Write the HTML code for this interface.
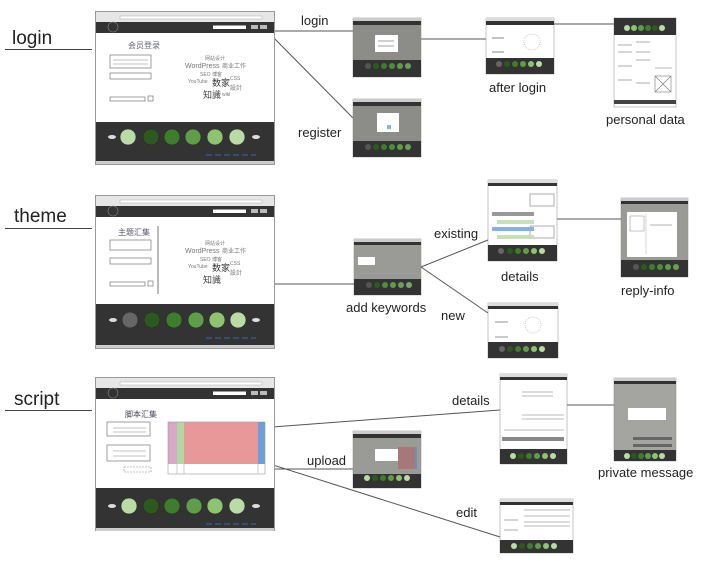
<!DOCTYPE html>
<html><head><meta charset="utf-8"><style>
html,body{margin:0;padding:0;background:#fff;}
svg{display:block;}
text{font-family:"Liberation Sans","Noto Sans CJK SC",sans-serif;}
</style></head><body>
<svg width="720" height="568" viewBox="0 0 720 568" xmlns="http://www.w3.org/2000/svg">
<defs>
<symbol id="foot" viewBox="0 0 178 40">
  <rect width="178" height="40" fill="#333"/>
</symbol>
</defs>

<!-- section labels -->
<g fill="#222" font-size="19">
<text x="12" y="44">login</text>
<text x="14" y="222">theme</text>
<text x="14" y="405">script</text>
</g>
<g stroke="#444" stroke-width="1">
<line x1="5" y1="49.5" x2="92" y2="49.5"/>
<line x1="5" y1="228.5" x2="92" y2="228.5"/>
<line x1="5" y1="410.5" x2="92" y2="410.5"/>
</g>

<!-- connectors -->
<g stroke="#555" stroke-width="1" fill="none">
<line x1="268" y1="31" x2="353" y2="31"/>
<line x1="268" y1="32" x2="353" y2="118"/>
<line x1="421" y1="39" x2="486" y2="39"/>
<line x1="548" y1="24" x2="614" y2="24"/>
<line x1="152" y1="284" x2="354" y2="284"/>
<line x1="421" y1="267" x2="488" y2="240"/>
<line x1="421" y1="267" x2="488" y2="313"/>
<line x1="552" y1="219" x2="621" y2="219"/>
<line x1="232" y1="430" x2="500" y2="410"/>
<line x1="232" y1="452" x2="500" y2="537"/>
<line x1="150" y1="469" x2="353" y2="469"/>
<line x1="510" y1="405" x2="614" y2="405"/>
</g>

<!-- connector labels -->
<g fill="#222" font-size="13">
<text x="301" y="25">login</text>
<text x="298" y="137">register</text>
<text x="489" y="92">after login</text>
<text x="606" y="124">personal data</text>
<text x="434" y="238">existing</text>
<text x="501" y="281">details</text>
<text x="621" y="295">reply-info</text>
<text x="346" y="312">add keywords</text>
<text x="441" y="320">new</text>
<text x="452" y="405">details</text>
<text x="307" y="465">upload</text>
<text x="598" y="477">private message</text>
<text x="456" y="517">edit</text>
</g>

<!-- ========== MAIN MOCKUPS ========== -->
<!-- login -->
<g>
<rect x="95.5" y="11.5" width="179" height="153" fill="#fff" stroke="#999"/>
<rect x="96" y="12" width="178" height="10" fill="#e6e6e6"/>
<rect x="120" y="16" width="142" height="3" fill="#fff" stroke="#aaa" stroke-width="0.5"/>
<rect x="96" y="22" width="178" height="11" fill="#333"/>
<rect x="213" y="25.5" width="33" height="3.5" fill="#fff"/>
<rect x="251" y="25" width="7" height="4" fill="#bbb"/>
<rect x="260" y="25" width="7" height="4" fill="#bbb"/>
<circle cx="113" cy="27" r="5" fill="none" stroke="#888" stroke-width="0.6"/>
<text x="128" y="48" font-size="8" fill="#667">会员登录</text>
<rect x="110" y="55" width="41" height="13" fill="none" stroke="#777" stroke-width="0.7"/>
<line x1="113" y1="60" x2="148" y2="60" stroke="#888" stroke-width="0.6"/>
<line x1="113" y1="64" x2="148" y2="64" stroke="#888" stroke-width="0.6"/>
<rect x="110" y="73" width="41" height="6" fill="none" stroke="#777" stroke-width="0.7"/>
<rect x="110" y="97" width="35" height="4" fill="none" stroke="#777" stroke-width="0.7"/>
<rect x="148" y="96" width="5" height="5" fill="none" stroke="#777" stroke-width="0.7"/>
<g fill="#777" font-size="5">
<text x="205" y="60">网站设计</text><text x="185" y="68" font-size="7">WordPress</text><text x="222" y="68" font-size="6">商业工作</text>
<text x="200" y="76">SEO 博客</text><text x="230" y="80">CSS</text><text x="188" y="83">YouTube</text>
<text x="212" y="86" font-size="9" fill="#333">数家</text><text x="230" y="90" font-size="6">設計</text>
<text x="203" y="98" font-size="9" fill="#444">知識</text><text x="222" y="96">wiki</text>
</g>
<rect x="96" y="122" width="178" height="39" fill="#333"/>
<g stroke="#222" stroke-width="0.5">
<circle cx="128" cy="137" r="8" fill="#b9dca6"/>
<circle cx="151" cy="137" r="8" fill="#2c5a1e"/>
<circle cx="172" cy="137" r="8" fill="#3d7d2c"/>
<circle cx="193" cy="137" r="8" fill="#5e9e48"/>
<circle cx="215" cy="137" r="8" fill="#8cc470"/>
<circle cx="237" cy="137" r="8" fill="#b9dca6"/>
</g>
<ellipse cx="112" cy="137" rx="4" ry="2" fill="#ddd"/>
<ellipse cx="256" cy="137" rx="4" ry="2" fill="#ddd"/>
<line x1="206" y1="155" x2="256" y2="155" stroke="#3a6aa8" stroke-width="1" stroke-dasharray="6,3"/>
<rect x="96" y="161" width="178" height="3" fill="#ccc"/>
</g>

<!-- theme -->
<g>
<rect x="95.5" y="195.5" width="179" height="153" fill="#fff" stroke="#999"/>
<rect x="96" y="196" width="178" height="10" fill="#e6e6e6"/>
<rect x="120" y="200" width="142" height="3" fill="#fff" stroke="#aaa" stroke-width="0.5"/>
<rect x="96" y="206" width="178" height="11" fill="#333"/>
<rect x="213" y="209.5" width="33" height="3.5" fill="#fff"/>
<rect x="251" y="209" width="7" height="4" fill="#bbb"/>
<rect x="260" y="209" width="7" height="4" fill="#bbb"/>
<circle cx="113" cy="211" r="5" fill="none" stroke="#888" stroke-width="0.6"/>
<text x="118" y="235" font-size="8" fill="#556">主题汇集</text>
<line x1="158" y1="226" x2="158" y2="294" stroke="#555" stroke-width="0.8"/>
<rect x="110" y="240" width="41" height="10" fill="none" stroke="#777" stroke-width="0.7"/>
<rect x="110" y="258" width="41" height="6" fill="none" stroke="#777" stroke-width="0.7"/>
<rect x="110" y="282" width="35" height="4" fill="none" stroke="#777" stroke-width="0.7"/>
<rect x="148" y="281" width="5" height="5" fill="none" stroke="#777" stroke-width="0.7"/>
<g fill="#777" font-size="5">
<text x="205" y="245">网站设计</text><text x="185" y="253" font-size="7">WordPress</text><text x="222" y="253" font-size="6">商业工作</text>
<text x="200" y="261">SEO 博客</text><text x="230" y="265">CSS</text><text x="188" y="268">YouTube</text>
<text x="212" y="271" font-size="9" fill="#333">数家</text><text x="230" y="275" font-size="6">設計</text>
<text x="203" y="283" font-size="9" fill="#444">知識</text>
</g>
<rect x="96" y="304" width="178" height="41" fill="#333"/>
<g stroke="#222" stroke-width="0.5">
<circle cx="130" cy="320" r="8" fill="#666"/>
<circle cx="152" cy="320" r="8" fill="#2c5a1e"/>
<circle cx="174" cy="320" r="8" fill="#3d7d2c"/>
<circle cx="196" cy="320" r="8" fill="#5e9e48"/>
<circle cx="217" cy="320" r="8" fill="#8cc470"/>
<circle cx="238" cy="320" r="8" fill="#b9dca6"/>
</g>
<ellipse cx="113" cy="320" rx="4" ry="2" fill="#ddd"/>
<ellipse cx="256" cy="320" rx="4" ry="2" fill="#ddd"/>
<line x1="206" y1="338" x2="256" y2="338" stroke="#3a6aa8" stroke-width="1" stroke-dasharray="6,3"/>
<rect x="96" y="345" width="178" height="3" fill="#ccc"/>
</g>

<!-- script -->
<g>
<rect x="95.5" y="377.5" width="179" height="153" fill="#fff" stroke="#999"/>
<rect x="96" y="378" width="178" height="10" fill="#e6e6e6"/>
<rect x="120" y="382" width="142" height="3" fill="#fff" stroke="#aaa" stroke-width="0.5"/>
<rect x="96" y="388" width="178" height="11" fill="#333"/>
<rect x="213" y="391.5" width="33" height="3.5" fill="#fff"/>
<rect x="251" y="391" width="7" height="4" fill="#bbb"/>
<rect x="260" y="391" width="7" height="4" fill="#bbb"/>
<circle cx="113" cy="393" r="5" fill="none" stroke="#888" stroke-width="0.6"/>
<text x="125" y="417" font-size="8" fill="#445">脚本汇集</text>
<rect x="107" y="422" width="43" height="14" fill="none" stroke="#777" stroke-width="0.7"/>
<line x1="113" y1="428" x2="146" y2="428" stroke="#888" stroke-width="0.6"/>
<line x1="113" y1="432" x2="146" y2="432" stroke="#888" stroke-width="0.6"/>
<rect x="107" y="445" width="43" height="16" fill="none" stroke="#777" stroke-width="0.7"/>
<line x1="113" y1="451" x2="146" y2="451" stroke="#888" stroke-width="0.6"/>
<line x1="113" y1="456" x2="146" y2="456" stroke="#888" stroke-width="0.6"/>
<rect x="124" y="467" width="27" height="5" fill="none" stroke="#888" stroke-width="0.6" stroke-dasharray="2,1"/>
<rect x="168" y="422" width="9" height="42" fill="#d8a8c6"/>
<rect x="177" y="422" width="7" height="42" fill="#b4d8a4"/>
<rect x="184" y="422" width="74" height="42" fill="#e89898"/>
<rect x="258" y="422" width="7" height="42" fill="#6a9fd8"/>
<rect x="168" y="422" width="97" height="52" fill="none" stroke="#999" stroke-width="0.6"/>
<line x1="177" y1="464" x2="177" y2="474" stroke="#999" stroke-width="0.5"/>
<line x1="184" y1="464" x2="184" y2="474" stroke="#999" stroke-width="0.5"/>
<line x1="258" y1="464" x2="258" y2="474" stroke="#999" stroke-width="0.5"/>
<rect x="96" y="488" width="178" height="40" fill="#333"/>
<g stroke="#222" stroke-width="0.5">
<circle cx="129" cy="506" r="8" fill="#b9dca6"/>
<circle cx="151" cy="506" r="8" fill="#2c5a1e"/>
<circle cx="172" cy="506" r="8" fill="#3d7d2c"/>
<circle cx="194" cy="506" r="8" fill="#5e9e48"/>
<circle cx="215" cy="506" r="8" fill="#8cc470"/>
<circle cx="237" cy="506" r="8" fill="#b9dca6"/>
</g>
<ellipse cx="112" cy="506" rx="4" ry="2" fill="#ddd"/>
<ellipse cx="256" cy="506" rx="4" ry="2" fill="#ddd"/>
<line x1="206" y1="524" x2="256" y2="524" stroke="#3a6aa8" stroke-width="1" stroke-dasharray="6,3"/>
<rect x="96" y="528" width="178" height="3" fill="#ccc"/>
</g>

<!-- ========== THUMBNAILS ========== -->
<!-- login modal -->
<g>
<rect x="353" y="18" width="68" height="59" fill="#8c8c88" stroke="#888" stroke-width="0.5"/>
<rect x="353" y="18" width="68" height="3" fill="#ccc"/>
<rect x="353" y="21" width="68" height="4" fill="#333"/>
<rect x="375" y="35" width="23" height="17" fill="#fff"/>
<line x1="378" y1="41" x2="394" y2="41" stroke="#666" stroke-width="0.6"/>
<line x1="378" y1="46" x2="394" y2="46" stroke="#666" stroke-width="0.6"/>
<rect x="353" y="60" width="68" height="17" fill="#333"/>
<g><circle cx="368" cy="66" r="3" fill="#555"/><circle cx="376" cy="66" r="3" fill="#2c5a1e"/><circle cx="384" cy="66" r="3" fill="#3d7d2c"/><circle cx="392" cy="66" r="3" fill="#4d8d3c"/><circle cx="400" cy="66" r="3" fill="#5e9e48"/><circle cx="408" cy="66" r="3" fill="#6aa056"/></g>
</g>
<!-- register -->
<g>
<rect x="353" y="99" width="68" height="58" fill="#8c8c88" stroke="#888" stroke-width="0.5"/>
<rect x="353" y="99" width="68" height="3" fill="#ccc"/>
<rect x="353" y="102" width="68" height="4" fill="#333"/>
<rect x="377" y="113" width="22" height="19" fill="#fff"/>
<rect x="387" y="125" width="4" height="4" fill="#88b0e0"/>
<rect x="353" y="141" width="68" height="16" fill="#333"/>
<g><circle cx="368" cy="147" r="3" fill="#555"/><circle cx="376" cy="147" r="3" fill="#2c5a1e"/><circle cx="384" cy="147" r="3" fill="#3d7d2c"/><circle cx="392" cy="147" r="3" fill="#4d8d3c"/><circle cx="400" cy="147" r="3" fill="#5e9e48"/><circle cx="408" cy="147" r="3" fill="#6aa056"/></g>
</g>
<!-- after login -->
<g>
<rect x="486" y="18" width="68" height="56" fill="#fff" stroke="#888" stroke-width="0.5"/>
<rect x="486" y="18" width="68" height="3" fill="#ddd"/>
<rect x="486" y="21" width="68" height="4" fill="#333"/>
<line x1="492" y1="38" x2="504" y2="38" stroke="#666" stroke-width="0.8"/>
<line x1="492" y1="52" x2="504" y2="52" stroke="#666" stroke-width="0.8"/>
<circle cx="532" cy="42" r="8" fill="none" stroke="#aaa" stroke-width="0.6" stroke-dasharray="1,1"/>
<rect x="486" y="58" width="68" height="16" fill="#333"/>
<g><circle cx="499" cy="64" r="3" fill="#666"/><circle cx="507" cy="64" r="3" fill="#2c5a1e"/><circle cx="515" cy="64" r="3" fill="#3d7d2c"/><circle cx="523" cy="64" r="3" fill="#5e9e48"/><circle cx="531" cy="64" r="3" fill="#8cc470"/><circle cx="539" cy="64" r="3" fill="#b9dca6"/></g>
</g>
<!-- personal data -->
<g>
<rect x="614" y="18" width="62" height="89" fill="#fff" stroke="#888" stroke-width="0.5"/>
<rect x="614" y="18" width="62" height="17" fill="#333"/>
<g><circle cx="627" cy="28" r="3" fill="#b9dca6"/><circle cx="634" cy="28" r="3" fill="#8cc470"/><circle cx="641" cy="28" r="3" fill="#5e9e48"/><circle cx="648" cy="28" r="3" fill="#3d7d2c"/><circle cx="655" cy="28" r="3" fill="#2c5a1e"/><circle cx="662" cy="28" r="3" fill="#b9dca6"/></g>
<g stroke="#777" stroke-width="0.6">
<line x1="618" y1="45" x2="632" y2="45"/><line x1="618" y1="52" x2="632" y2="52"/>
<line x1="636" y1="42" x2="650" y2="42"/><line x1="636" y1="52" x2="650" y2="52"/><line x1="636" y1="60" x2="650" y2="60"/>
<line x1="618" y1="66" x2="632" y2="66"/><line x1="618" y1="80" x2="632" y2="80"/>
<line x1="636" y1="83" x2="650" y2="83"/><line x1="655" y1="68" x2="672" y2="68"/>
<rect x="655" y="76" width="16" height="16" fill="none"/><line x1="655" y1="76" x2="671" y2="92"/><line x1="671" y1="76" x2="655" y2="92"/>
</g>
<rect x="614" y="100" width="62" height="4" fill="#444"/>
</g>
<!-- add keywords -->
<g>
<rect x="354" y="239" width="67" height="56" fill="#9a9a96" stroke="#888" stroke-width="0.5"/>
<rect x="354" y="239" width="67" height="3" fill="#ccc"/>
<rect x="354" y="242" width="67" height="3" fill="#333"/>
<rect x="358" y="257" width="17" height="8" fill="#fff"/>
<rect x="354" y="279" width="67" height="16" fill="#333"/>
<g><circle cx="369" cy="285" r="3" fill="#555"/><circle cx="377" cy="285" r="3" fill="#2c5a1e"/><circle cx="385" cy="285" r="3" fill="#4d8d3c"/><circle cx="393" cy="285" r="3" fill="#5e9e48"/><circle cx="401" cy="285" r="3" fill="#6aa056"/><circle cx="409" cy="285" r="3" fill="#7aa866"/></g>
</g>
<!-- details (theme) -->
<g>
<rect x="488" y="180" width="69" height="81" fill="#fff" stroke="#888" stroke-width="0.5"/>
<rect x="488" y="180" width="69" height="3" fill="#ddd"/>
<rect x="488" y="183" width="69" height="3" fill="#333"/>
<rect x="530" y="194" width="24" height="12" fill="none" stroke="#777" stroke-width="0.6"/>
<rect x="530" y="226" width="24" height="12" fill="none" stroke="#777" stroke-width="0.6"/>
<rect x="492" y="212" width="42" height="4" fill="#999"/>
<rect x="497" y="220" width="37" height="4" fill="#c8e0b8"/>
<rect x="492" y="227" width="42" height="4" fill="#88b0e0"/>
<rect x="497" y="235" width="37" height="4" fill="#c8e0b8"/>
<rect x="488" y="245" width="69" height="16" fill="#333"/>
<g><circle cx="501" cy="251" r="3" fill="#666"/><circle cx="510" cy="251" r="3" fill="#2c5a1e"/><circle cx="518" cy="251" r="3" fill="#3d7d2c"/><circle cx="526" cy="251" r="3" fill="#5e9e48"/><circle cx="534" cy="251" r="3" fill="#8cc470"/><circle cx="542" cy="251" r="3" fill="#b9dca6"/></g>
</g>
<!-- reply-info -->
<g>
<rect x="621" y="198" width="67" height="79" fill="#9a9a96" stroke="#888" stroke-width="0.5"/>
<rect x="621" y="198" width="67" height="3" fill="#ccc"/>
<rect x="621" y="201" width="67" height="3" fill="#333"/>
<rect x="627" y="212" width="50" height="45" fill="#fff"/>
<rect x="630" y="216" width="14" height="15" fill="none" stroke="#888" stroke-width="0.5"/>
<line x1="646" y1="214" x2="646" y2="254" stroke="#aaa" stroke-width="0.5"/>
<line x1="650" y1="225" x2="672" y2="225" stroke="#666" stroke-width="0.6"/>
<rect x="621" y="260" width="67" height="17" fill="#333"/>
<g><circle cx="636" cy="267" r="3" fill="#555"/><circle cx="644" cy="267" r="3" fill="#2c5a1e"/><circle cx="652" cy="267" r="3" fill="#3d7d2c"/><circle cx="660" cy="267" r="3" fill="#4d8d3c"/><circle cx="668" cy="267" r="3" fill="#5e9e48"/><circle cx="676" cy="267" r="3" fill="#6aa056"/></g>
</g>
<!-- new -->
<g>
<rect x="488" y="303" width="70" height="55" fill="#fff" stroke="#888" stroke-width="0.5"/>
<rect x="488" y="303" width="70" height="3" fill="#ddd"/>
<rect x="488" y="306" width="70" height="3" fill="#333"/>
<line x1="495" y1="322" x2="508" y2="322" stroke="#666" stroke-width="0.7"/>
<line x1="495" y1="337" x2="508" y2="337" stroke="#666" stroke-width="0.7"/>
<circle cx="533" cy="325" r="8" fill="none" stroke="#aaa" stroke-width="0.6" stroke-dasharray="1,1"/>
<rect x="488" y="342" width="70" height="16" fill="#333"/>
<g><circle cx="502" cy="349" r="3" fill="#666"/><circle cx="510" cy="349" r="3" fill="#2c5a1e"/><circle cx="518" cy="349" r="3" fill="#3d7d2c"/><circle cx="526" cy="349" r="3" fill="#5e9e48"/><circle cx="534" cy="349" r="3" fill="#8cc470"/><circle cx="542" cy="349" r="3" fill="#b9dca6"/></g>
</g>
<!-- script details -->
<g>
<rect x="500" y="374" width="67" height="90" fill="#fff" stroke="#888" stroke-width="0.5"/>
<rect x="500" y="374" width="67" height="3" fill="#ddd"/>
<rect x="500" y="377" width="67" height="3" fill="#333"/>
<g stroke="#777" stroke-width="0.6">
<line x1="522" y1="392" x2="553" y2="392"/><line x1="522" y1="396" x2="553" y2="396"/>
<line x1="522" y1="415" x2="564" y2="415"/><line x1="522" y1="419" x2="564" y2="419"/>
<line x1="504" y1="430" x2="564" y2="430"/>
</g>
<rect x="502" y="437" width="62" height="4" fill="#888"/>
<rect x="500" y="449" width="67" height="15" fill="#333"/>
<g><circle cx="513" cy="456" r="3" fill="#b9dca6"/><circle cx="521" cy="456" r="3" fill="#2c5a1e"/><circle cx="529" cy="456" r="3" fill="#3d7d2c"/><circle cx="537" cy="456" r="3" fill="#5e9e48"/><circle cx="545" cy="456" r="3" fill="#8cc470"/><circle cx="553" cy="456" r="3" fill="#b9dca6"/></g>
</g>
<!-- upload -->
<g>
<rect x="353" y="431" width="68" height="57" fill="#9a9a96" stroke="#888" stroke-width="0.5"/>
<rect x="353" y="431" width="68" height="3" fill="#ccc"/>
<rect x="353" y="434" width="68" height="4" fill="#333"/>
<rect x="375" y="449" width="23" height="12" fill="#fff"/>
<rect x="398" y="447" width="17" height="22" fill="#a87878"/>
<rect x="415" y="447" width="2" height="22" fill="#6a8fb8"/>
<rect x="353" y="474" width="68" height="14" fill="#333"/>
<g><circle cx="367" cy="478" r="3" fill="#b9dca6"/><circle cx="375" cy="478" r="3" fill="#2c5a1e"/><circle cx="383" cy="478" r="3" fill="#3d7d2c"/><circle cx="391" cy="478" r="3" fill="#5e9e48"/><circle cx="399" cy="478" r="3" fill="#8cc470"/><circle cx="407" cy="478" r="3" fill="#b9dca6"/></g>
</g>
<!-- private message -->
<g>
<rect x="614" y="378" width="62" height="83" fill="#a4a4a0" stroke="#888" stroke-width="0.5"/>
<rect x="614" y="378" width="62" height="3" fill="#ccc"/>
<rect x="614" y="381" width="62" height="3" fill="#333"/>
<rect x="628" y="408" width="38" height="12" fill="#fff"/>
<rect x="633" y="437" width="39" height="3" fill="#666"/>
<rect x="633" y="444" width="39" height="3" fill="#666"/>
<rect x="614" y="450" width="62" height="11" fill="#333"/>
<g><circle cx="627" cy="456" r="3" fill="#b9dca6"/><circle cx="634" cy="456" r="3" fill="#2c5a1e"/><circle cx="641" cy="456" r="3" fill="#3d7d2c"/><circle cx="648" cy="456" r="3" fill="#5e9e48"/><circle cx="655" cy="456" r="3" fill="#8cc470"/><circle cx="662" cy="456" r="3" fill="#b9dca6"/></g>
</g>
<!-- edit -->
<g>
<rect x="500" y="499" width="73" height="54" fill="#fff" stroke="#888" stroke-width="0.5"/>
<rect x="500" y="499" width="73" height="3" fill="#ddd"/>
<rect x="500" y="502" width="73" height="3" fill="#333"/>
<g stroke="#777" stroke-width="0.6">
<line x1="524" y1="510" x2="570" y2="510"/><line x1="524" y1="516" x2="570" y2="516"/>
<line x1="524" y1="522" x2="570" y2="522"/><line x1="524" y1="526" x2="570" y2="526"/>
<line x1="504" y1="520" x2="518" y2="520"/><line x1="504" y1="530" x2="518" y2="530"/>
</g>
<rect x="500" y="540" width="73" height="13" fill="#333"/>
<g><circle cx="514" cy="546" r="3" fill="#b9dca6"/><circle cx="522" cy="546" r="3" fill="#2c5a1e"/><circle cx="530" cy="546" r="3" fill="#3d7d2c"/><circle cx="538" cy="546" r="3" fill="#5e9e48"/><circle cx="546" cy="546" r="3" fill="#8cc470"/><circle cx="554" cy="546" r="3" fill="#b9dca6"/></g>
</g>
</svg>
</body></html>
